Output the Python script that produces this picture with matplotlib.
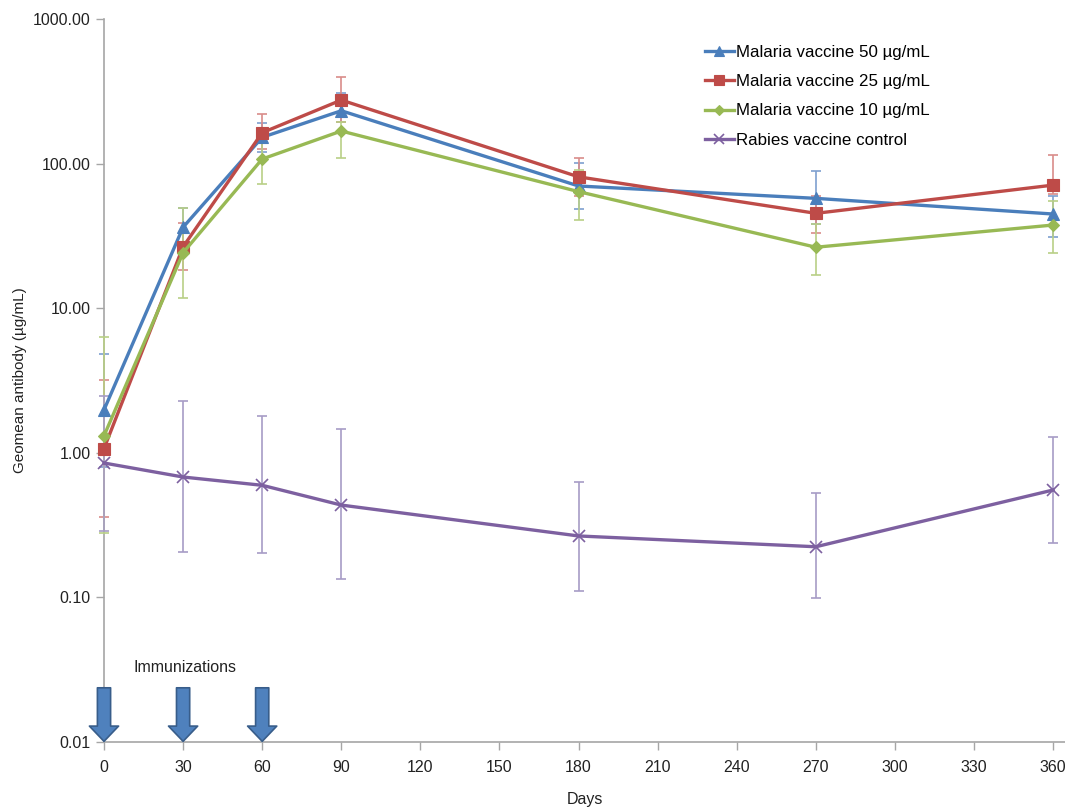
"""
Geomean antibody response over time, malaria vaccine doses vs rabies control.
Log-scale line chart with asymmetric error bars and immunization arrows.
"""

import numpy as np
import matplotlib
matplotlib.use("Agg")
import matplotlib.pyplot as plt
from matplotlib.patches import FancyArrowPatch
from matplotlib.ticker import FixedLocator, FuncFormatter, NullLocator

plt.rcParams["font.family"] = ["Liberation Sans", "DejaVu Sans"]

# Sampling days
days = [0, 30, 60, 90, 180, 270, 360]

# Malaria vaccine 50 ug/mL
mv50       = [1.98, 36.3, 152, 232, 70, 57.5, 44.8]
mv50_low   = [0.80, 27.0, 121, 195, 48.5, 38, 31]
mv50_high  = [4.80, 49.0, 190, 306, 100.5, 89, 60]

# Malaria vaccine 25 ug/mL
mv25       = [1.07, 26.6, 163.6, 275, 81, 45.3, 71]
mv25_low   = [0.36, 18.4, 127, 195, 60, 33, 62]
mv25_high  = [3.19, 38.7, 220, 399, 110, 60, 115]

# Malaria vaccine 10 ug/mL
mv10       = [1.31, 24.2, 107.6, 168, 64, 26.4, 37.6]
mv10_low   = [0.28, 11.8, 72, 110, 40.7, 17, 24.2]
mv10_high  = [6.35, 49.0, 150, 195, 90, 38, 55]

# Rabies vaccine control
rabies      = [0.85, 0.68, 0.596, 0.435, 0.266, 0.224, 0.553]
rabies_low  = [0.29, 0.205, 0.202, 0.133, 0.111, 0.0995, 0.237]
rabies_high = [2.48, 2.29, 1.80, 1.46, 0.63, 0.525, 1.29]

immunization_days = [0, 30, 60]

SERIES = [
    ("Malaria vaccine 50 µg/mL", mv50, mv50_low, mv50_high, "#4A7EBB", "#7E9FD0", "^", 9),
    ("Malaria vaccine 25 µg/mL", mv25, mv25_low, mv25_high, "#BE4B48", "#D98C8A", "s", 8),
    ("Malaria vaccine 10 µg/mL", mv10, mv10_low, mv10_high, "#98B954", "#B9CF86", "D", 6),
    ("Rabies vaccine control", rabies, rabies_low, rabies_high, "#7D60A0", "#A79CC6", "x", 9),
]

AXIS_GREY = "#A6A6A6"

fig = plt.figure(figsize=(10.65, 8.10), dpi=100)
ax = fig.add_axes([104 / 1065, 1 - 742 / 810, 1 - 104 / 1065, (742 - 19) / 810])

for z, (label, vals, low, high, color, ecolor, marker, ms) in enumerate(SERIES):
    vals = np.array(vals)
    yerr = [vals - np.array(low), np.array(high) - vals]
    ax.errorbar(days, vals, yerr=yerr, fmt="none", ecolor=ecolor,
                elinewidth=1.2, capsize=3.5, capthick=1.2, zorder=2 + z, clip_on=False)
    ax.plot(days, vals, color=color, linewidth=2.4, marker=marker, markersize=ms,
            markeredgewidth=1.2 if marker == "x" else 0.8, markeredgecolor=color,
            label=label, zorder=6 + z, clip_on=False)

ax.set_yscale("log")
ax.set_ylim(0.01, 1000)
ax.set_xlim(0, 364.5)
ax.yaxis.set_major_locator(FixedLocator([0.01, 0.1, 1, 10, 100, 1000]))
ax.yaxis.set_minor_locator(NullLocator())
ax.yaxis.set_major_formatter(FuncFormatter(lambda v, _: f"{v:.2f}"))
ax.set_xticks(np.arange(0, 361, 30))

for side in ("top", "right"):
    ax.spines[side].set_visible(False)
for side in ("left", "bottom"):
    ax.spines[side].set_color(AXIS_GREY)
    ax.spines[side].set_linewidth(1.2)
ax.tick_params(axis="both", colors=AXIS_GREY, labelcolor="#222222",
               labelsize=11.5, length=6, width=1.0, direction="out")
ax.tick_params(axis="x", pad=7)

ax.set_xlabel("Days", fontsize=11.5, color="#222222", labelpad=12)
ax.set_ylabel("Geomean antibody (µg/mL)", fontsize=11, color="#222222", labelpad=4)

# Immunization arrows
for d in immunization_days:
    arrow = FancyArrowPatch((d, 0.0237), (d, 0.0101),
                            arrowstyle="simple,head_width=21,head_length=11,tail_width=9.5",
                            mutation_scale=1, facecolor="#4F81BD", edgecolor="#385D8A",
                            linewidth=1.2, shrinkA=0, shrinkB=0, clip_on=False, zorder=12)
    ax.add_patch(arrow)
ax.text(11, 0.0325, "Immunizations", fontsize=11.5, color="#222222",
        ha="left", va="center")

ax.legend(loc="upper left", bbox_to_anchor=(705 / 1065, 1 - 45 / 810),
          bbox_transform=fig.transFigure, frameon=False, fontsize=12.2,
          handlelength=1.7, handletextpad=0.15, labelspacing=0.84,
          borderpad=0, borderaxespad=0, markerscale=0.85)

fig.savefig("out.png", dpi=100)
